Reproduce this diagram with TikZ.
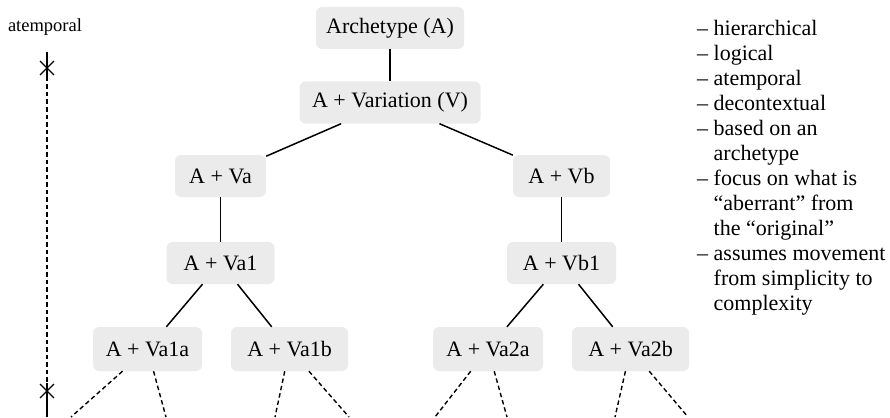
\documentclass[tikz,border=0pt]{standalone}
\usepackage{fontspec}
\setmainfont{Liberation Serif}
\usetikzlibrary{shapes.misc}
\definecolor{boxgray}{HTML}{EBEBEB}
\tikzset{
  vbox/.style={fill=boxgray, rounded corners=6pt, minimum height=42pt,
    inner sep=0pt, font=\fontsize{22}{26}\selectfont},
  link/.style={line width=1.5pt},
  openlink/.style={line width=1.4pt, dash pattern=on 4.5pt off 3pt},
  tick/.style={cross out, draw, line width=1.4pt, minimum size=12.5pt, inner sep=0pt},
}
\begin{document}
\begin{tikzpicture}[x=1pt,y=-1pt]
\useasboundingbox (0,0) rectangle (890,417);

% time axis on the left
\node[font=\fontsize{18.5}{22}\selectfont] (tlabel) at (45,27) {atemporal};
\coordinate (ttop) at (47,52);
\node[tick] (tx1) at (47,68) {};
\node[tick] (tx2) at (47,391) {};
\coordinate (tbot) at (47,417);
\coordinate (td1) at (47,77);
\coordinate (td2) at (47,383);
\draw[link] (ttop) -- (td1);
\draw[openlink, line width=1.2pt] (td1) -- (td2);
\draw[link] (td2) -- (tbot);

% the tree of variations
\node[vbox, minimum width=148pt] (arch) at (390,28) {Archetype (A)};
\node[vbox, minimum width=181pt] (var) at (390,102.5) {A + Variation (V)};
\node[vbox, minimum width=91pt] (va) at (220.5,176) {A + Va};
\node[vbox, minimum width=97pt] (vb) at (561.5,176) {A + Vb};
\node[vbox, minimum width=108pt] (va1) at (220.5,263) {A + Va1};
\node[vbox, minimum width=109pt] (vb1) at (561.5,263) {A + Vb1};
\node[vbox, minimum width=109pt, minimum height=44pt] (va1a) at (147.5,349) {A + Va1a};
\node[vbox, minimum width=117pt, minimum height=44pt] (va1b) at (289.5,349) {A + Va1b};
\node[vbox, minimum width=110pt, minimum height=44pt] (va2a) at (488,349) {A + Va2a};
\node[vbox, minimum width=117pt, minimum height=44pt] (va2b) at (630.5,349) {A + Va2b};

\draw[link] (arch) -- (var);
\draw[link] (var) -- (va);
\draw[link] (var) -- (vb);
\draw[link] (va) -- (va1);
\draw[link] (vb) -- (vb1);
\draw[link] (va1) -- (va1a);
\draw[link] (va1) -- (va1b);
\draw[link] (vb1) -- (va2a);
\draw[link] (vb1) -- (va2b);

% open-ended continuations below the last level
\coordinate (e1) at (71,417);
\coordinate (e2) at (166,417);
\coordinate (e3) at (275,417);
\coordinate (e4) at (349,417);
\coordinate (e5) at (435,417);
\coordinate (e6) at (507,417);
\coordinate (e7) at (615,417);
\coordinate (e8) at (688,417);
\draw[openlink] (va1a) -- (e1);
\draw[openlink] (va1a) -- (e2);
\draw[openlink] (va1b) -- (e3);
\draw[openlink] (va1b) -- (e4);
\draw[openlink] (va2a) -- (e5);
\draw[openlink] (va2a) -- (e6);
\draw[openlink] (va2b) -- (e7);
\draw[openlink] (va2b) -- (e8);

% list of characteristics
\node[anchor=north west, inner sep=0pt, align=left,
      font=\fontsize{22}{25}\selectfont] (traits) at (697,20)
{– hierarchical\\
 – logical\\
 – atemporal\\
 – decontextual\\
 – based on an\\
 \phantom{– }archetype\\
 – focus on what is\\
 \phantom{– }“aberrant” from\\
 \phantom{– }the “original”\\
 – assumes movement\\
 \phantom{– }from simplicity to\\
 \phantom{– }complexity};
\end{tikzpicture}
\end{document}
